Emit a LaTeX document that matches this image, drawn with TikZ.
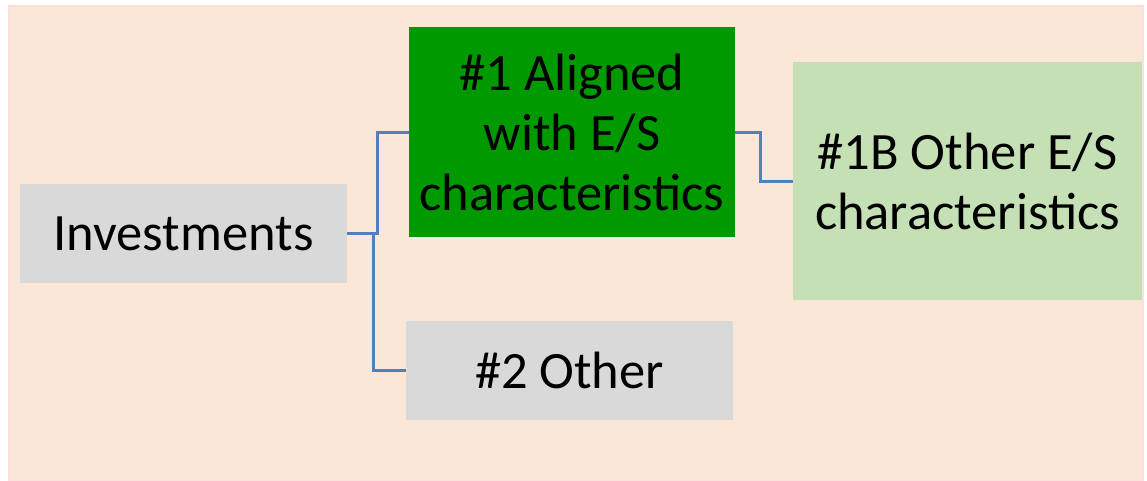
\documentclass[tikz,border=0pt]{standalone}
\usepackage{fontspec}
\setmainfont{Carlito}
\definecolor{peach}{HTML}{FBE7D7}
\definecolor{peachedge}{HTML}{FBE0DC}
\definecolor{boxgray}{HTML}{D9D9D9}
\definecolor{darkgreen}{HTML}{009900}
\definecolor{lightgreen}{HTML}{C5E0B4}
\definecolor{linkblue}{HTML}{4F81BD}
\begin{document}
\begin{tikzpicture}[x=1pt,y=1pt,
  box/.style={inner sep=0pt, align=center, font=\fontsize{52.5}{60}\selectfont, text=black},
  link/.style={draw=linkblue, line width=3pt}]
\useasboundingbox (0,0) rectangle (1147,-480);
\fill[white] (0,0) rectangle (1147,-480);
\filldraw[fill=peach, draw=peachedge, line width=1.5pt] (9,-6) rectangle (1143,-481);
\node[box, fill=boxgray, minimum width=327pt, minimum height=99pt] (inv) at (183.5,-233.5) {Investments};
\node[box, fill=darkgreen, minimum width=326pt, minimum height=210pt] (a1) at (572,-132) {\#1 Aligned\\with E/S\\characteristics};
\node[box, fill=boxgray, minimum width=327pt, minimum height=99pt] (o2) at (569.5,-370.5) {\#2 Other};
\node[box, fill=lightgreen, minimum width=349pt, minimum height=238pt] (b1) at (967.5,-181) {\#1B Other E/S\\characteristics};
\coordinate (j1) at (377,-233.5);
\coordinate (j2) at (373,-233.5);
\coordinate (j3) at (760,-132);
\draw[link] (inv.east) -- (j1) |- (a1.west);
\draw[link] (inv.east) -- (j2) |- (o2.west);
\draw[link] (a1.east) -- (j3) |- (b1.west);
\end{tikzpicture}
\end{document}
